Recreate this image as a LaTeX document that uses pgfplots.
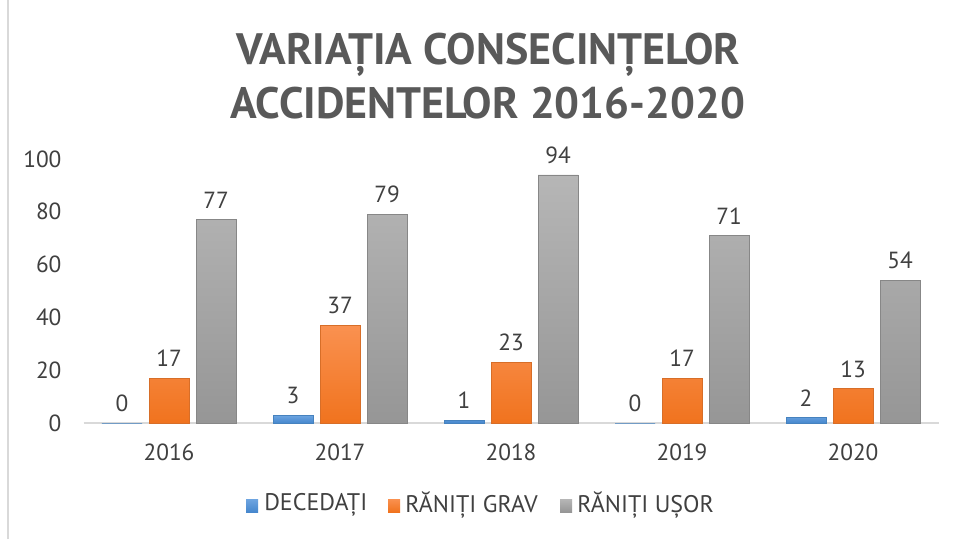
\documentclass[border=0pt]{standalone}
\usepackage{pgfplots}
\pgfplotsset{compat=1.18}
\usepackage{fontspec}
\setmainfont{PT Sans}
\definecolor{txt}{HTML}{404040}
\definecolor{ttl}{HTML}{595959}
\definecolor{axl}{HTML}{D9D9D9}
\definecolor{bTop}{RGB}{110,165,225}
\definecolor{bBot}{RGB}{70,135,205}
\definecolor{bDr}{RGB}{70,130,190}
\definecolor{oTop}{RGB}{250,145,80}
\definecolor{oBot}{RGB}{240,115,30}
\definecolor{oDr}{RGB}{215,110,40}
\definecolor{gTop}{RGB}{182,182,182}
\definecolor{gBot}{RGB}{150,150,150}
\definecolor{gDr}{RGB}{135,135,135}
\begin{document}
\begin{tikzpicture}
\begin{scope}[x=0.75pt,y=0.75pt]
\useasboundingbox[fill=white] (0,0) rectangle (955,539);
\draw[axl,line width=1pt] (8,0) -- (8,539);
\node[font=\fontsize{33}{40}\selectfont\bfseries,text=ttl,align=center] at (488,463) {VARIAȚIA CONSECINȚELOR\\ACCIDENTELOR 2016-2020};
\end{scope}
\begin{axis}[
  at={(62.625pt,87pt)}, anchor=south west,
  scale only axis, width=641.25pt, height=198pt,
  ymin=0, ymax=100, xmin=-0.5, xmax=4.5,
  ytick={0,20,...,100},
  xtick=data, xticklabels={2016,2017,2018,2019,2020},
  axis x line*=bottom, axis y line*=left,
  y axis line style={draw=none},
  x axis line style={axl,line width=1pt,-},
  major tick length=0pt,
  tick label style={font=\fontsize{17.5}{20}\selectfont,text=txt},
  yticklabel style={xshift=-13pt},
  xticklabel style={yshift=-12pt},
  /pgf/number format/assume math mode=true,
  ybar, bar width=30pt,
  nodes near coords,
  every node near coord/.append style={font=\fontsize{17.5}{20}\selectfont,text=txt,yshift=5pt},
  clip=false,
]
\addplot[bar shift=-35.25pt, draw=bDr, top color=bTop, bottom color=bBot] coordinates {(0,0) (1,3) (2,1) (3,0) (4,2)};
\addplot[bar shift=0pt, draw=oDr, top color=oTop, bottom color=oBot] coordinates {(0,17) (1,37) (2,23) (3,17) (4,13)};
\addplot[bar shift=35.25pt, draw=gDr, top color=gTop, bottom color=gBot] coordinates {(0,77) (1,79) (2,94) (3,71) (4,54)};
\end{axis}
\begin{scope}[x=0.75pt,y=0.75pt,font=\fontsize{18}{20}\selectfont]
\fill[top color=bTop, bottom color=bBot] (246,27) rectangle (258,40);
\node[anchor=west,text=txt,inner sep=0pt] at (264,34) {DECEDAȚI};
\fill[top color=oTop, bottom color=oBot] (388,27) rectangle (400,40);
\node[anchor=west,text=txt,inner sep=0pt] at (405,34) {RĂNIȚI GRAV};
\fill[top color=gTop, bottom color=gBot] (560,27) rectangle (572,40);
\node[anchor=west,text=txt,inner sep=0pt] at (577,34) {RĂNIȚI UȘOR};
\end{scope}
\end{tikzpicture}
\end{document}
